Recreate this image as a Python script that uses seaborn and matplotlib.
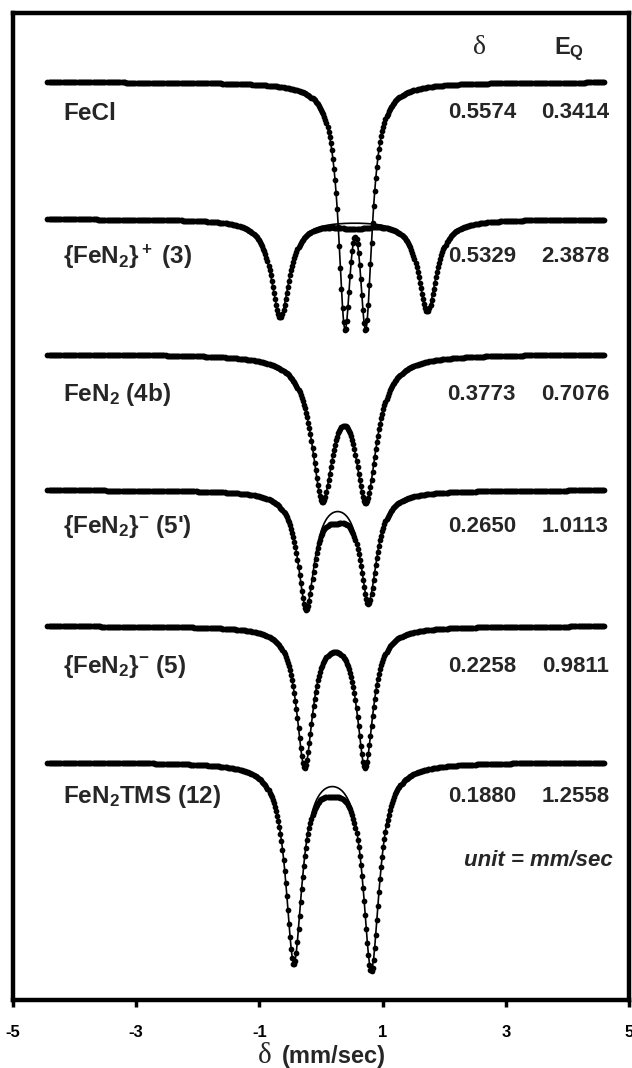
import numpy as np
import pandas as pd
import matplotlib
matplotlib.use("Agg")
import matplotlib.pyplot as plt
import seaborn as sns

# ---------------- data ----------------
names = ["FeCl", r"{FeN$_2$}$^+$ (3)", r"FeN$_2$ (4b)", r"{FeN$_2$}$^{-}$ (5')",
         r"{FeN$_2$}$^{-}$ (5)", r"FeN$_2$TMS (12)"]
delta = [0.5574, 0.5329, 0.3773, 0.2650, 0.2258, 0.1880]          # isomer shift, mm/s
eq = [0.3414, 2.3878, 0.7076, 1.0113, 0.9811, 1.2558]             # quadrupole splitting, mm/s
delta_txt = ["0.5574", "0.5329", "0.3773", "0.2650", "0.2258", "0.1880"]
eq_txt = ["0.3414", "2.3878", "0.7076", "1.0113", "0.9811", "1.2558"]
baseline = [918, 781, 646, 510, 374, 238]      # stacked offset (arb. units)
dip_left = [248, 98, 148, 118, 142, 201]       # depth of low-velocity line
dip_right = [248, 92, 149, 112, 142, 208]      # depth of high-velocity line
gamma = [0.25, 0.36, 0.42, 0.33, 0.316, 0.32]  # line width, mm/s
extra_depth = [0, 6, 0, 12, 0, 10]             # data lying below fit at centre
extra_width = [0.5, 0.7, 0.5, 0.45, 0.5, 0.55]
label_y = [887, 743, 605, 473, 334, 203]
xticks = [-5, -3, -1, 1, 3, 5]
v_start, v_stop, n_chan = -4.44, 4.60, 520

# ---------------- build spectra ----------------
def lor(v, c, g):
    return 1.0 / (1.0 + (2.0 * (v - c) / g) ** 2)

v = np.linspace(v_start, v_stop, n_chan)
rows = []
for i, nm in enumerate(names):
    c1 = delta[i] - eq[i] / 2
    c2 = delta[i] + eq[i] / 2
    ls = lor(c2, c1, gamma[i])
    a1 = (dip_left[i] - ls * dip_right[i]) / (1 - ls ** 2)
    a2 = (dip_right[i] - ls * dip_left[i]) / (1 - ls ** 2)
    fit = baseline[i] - a1 * lor(v, c1, gamma[i]) - a2 * lor(v, c2, gamma[i])
    dat = fit - extra_depth[i] * lor(v, delta[i], extra_width[i])
    rows.append(pd.DataFrame({"v": v, "fit": fit, "data": dat, "spectrum": i}))
df = pd.concat(rows, ignore_index=True)

# ---------------- style ----------------
sns.set_style("white")
plt.rcParams["font.family"] = ["Liberation Sans", "DejaVu Sans"]
plt.rcParams["font.weight"] = "bold"
plt.rcParams["mathtext.fontset"] = "custom"
plt.rcParams["mathtext.rm"] = "Liberation Sans:bold"
plt.rcParams["mathtext.bf"] = "Liberation Sans:bold"
plt.rcParams["mathtext.it"] = "Liberation Sans:bold:italic"
plt.rcParams["mathtext.default"] = "rm"

fig = plt.figure(figsize=(6.32, 10.68), dpi=100)
ax = fig.add_axes([13 / 632, 68 / 1068, 616 / 632, 987 / 1068])

sns.lineplot(data=df, x="v", y="fit", units="spectrum", estimator=None, sort=False,
             color="black", lw=1.2, ax=ax, legend=False)
sns.scatterplot(data=df, x="v", y="data", color="black", s=17, linewidth=0,
                ax=ax, legend=False)

ax.set_xlim(-5, 5)
ax.set_ylim(0, 987)
ax.set_xticks(xticks)
ax.set_xticklabels([str(t) for t in xticks], fontsize=12, fontweight="bold")
ax.set_yticks([])
ax.tick_params(axis="x", bottom=True, direction="out", length=5, width=2.5,
               pad=13, colors="black")
for s in ax.spines.values():
    s.set_linewidth(3.2)
    s.set_color("black")
ax.set_ylabel("")
ax.set_xlabel("")

# x-axis title: serif delta followed by bold sans text
fig.text(265 / 632, 1 - 1056 / 1068, "δ", fontsize=21, family="Liberation Serif",
         fontweight="normal", ha="center", va="center")
fig.text(334 / 632, 1 - 1057 / 1068, "(mm/sec)", fontsize=17, fontweight="bold",
         ha="center", va="center")

# labels and parameters
for i, nm in enumerate(names):
    ax.text(-4.19, label_y[i], nm, fontsize=17.5, fontweight="bold", ha="left", va="center")
    ax.text(2.61, label_y[i], delta_txt[i], fontsize=16, fontweight="bold", ha="center", va="center")
    ax.text(4.13, label_y[i], eq_txt[i], fontsize=16, fontweight="bold", ha="center", va="center")

ax.text(2.58, 953, "δ", fontsize=20, family="Liberation Serif", fontweight="normal",
        ha="center", va="center")
ax.text(4.02, 951, r"E$_\mathrm{Q}$", fontsize=17, fontweight="bold", ha="center", va="center")
ax.text(4.74, 140, "unit = mm/sec", fontsize=16, fontweight="bold", style="italic",
        ha="right", va="center")

fig.savefig("out.png", dpi=100)
